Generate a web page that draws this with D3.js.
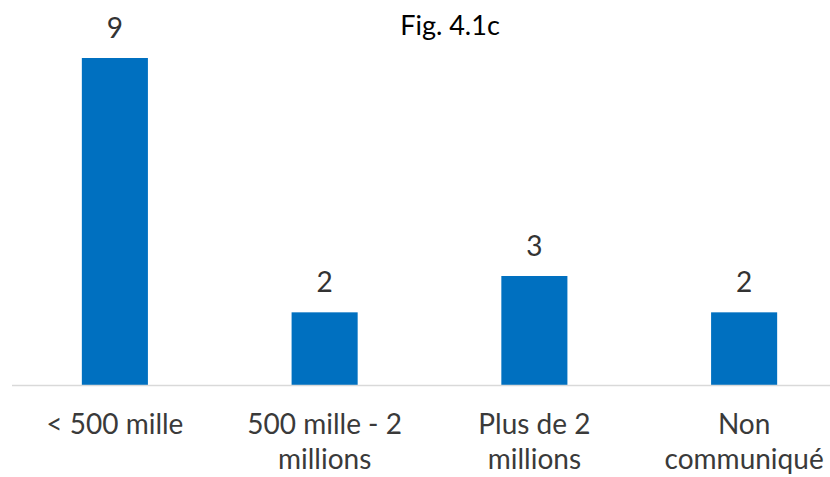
<!DOCTYPE html>
<html>
<head>
<meta charset="utf-8">
<script src="https://cdn.jsdelivr.net/npm/d3@7/dist/d3.min.js"></script>
<style>
  html, body { margin: 0; padding: 0; background: #fff; overflow: hidden; }
  svg { display: block; }
</style>
</head>
<body>
<svg id="chart" width="830" height="477"></svg>
<script>
// Répartition par tranche (Fig. 4.1c)
const categories = [["< 500 mille"], ["500 mille - 2", "millions"], ["Plus de 2", "millions"], ["Non", "communiqué"]];
const values = [9, 2, 3, 2];
const title = "Fig. 4.1c";

const W = 830, H = 477;
const baseY = 385;
const font = "Lato, 'Open Sans', sans-serif";

const svg = d3.select("#chart");

const x = d3.scaleBand()
  .domain(d3.range(values.length))
  .range([10, 849])
  .paddingInner(0.685)
  .paddingOuter(0.3425);

const y = d3.scaleLinear()
  .domain([0, 9])
  .range([baseY, 58]);

// title
svg.append("text")
  .attr("x", 450).attr("y", 35)
  .attr("text-anchor", "middle")
  .style("font-family", font).style("font-size", "27px")
  .attr("fill", "#000")
  .text(title);

// bars
svg.append("g").selectAll("rect")
  .data(values)
  .join("rect")
  .attr("x", (d, i) => x(i))
  .attr("width", x.bandwidth())
  .attr("y", d => y(d))
  .attr("height", d => baseY - y(d))
  .attr("fill", "#0070C0");

// value labels
svg.append("g").selectAll("text")
  .data(values)
  .join("text")
  .attr("x", (d, i) => x(i) + x.bandwidth() / 2)
  .attr("y", d => y(d) - 20)
  .attr("text-anchor", "middle")
  .style("font-family", font).style("font-size", "28px")
  .attr("fill", "#333")
  .text(d => d);

// baseline
svg.append("line")
  .attr("x1", 12).attr("x2", W)
  .attr("y1", baseY + 0.5).attr("y2", baseY + 0.5)
  .attr("stroke", "#d9d9d9").attr("stroke-width", 1.5);

// category labels (two-line where needed)
const cat = svg.append("g").selectAll("text")
  .data(categories)
  .join("text")
  .attr("x", (d, i) => x(i) + x.bandwidth() / 2)
  .attr("y", 434)
  .attr("text-anchor", "middle")
  .style("font-family", font).style("font-size", "28px")
  .attr("fill", "#3a3a3a");

cat.selectAll("tspan")
  .data(d => d)
  .join("tspan")
  .attr("x", function() { return d3.select(this.parentNode).attr("x"); })
  .attr("dy", (d, j) => j === 0 ? 0 : 35)
  .text(d => d);
</script>
</body>
</html>
